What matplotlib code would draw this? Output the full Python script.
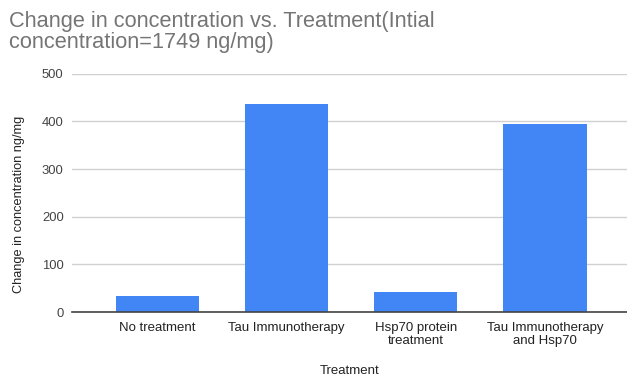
import matplotlib.pyplot as plt
import numpy as np

plt.rcParams['font.family'] = ['Liberation Sans', 'DejaVu Sans']

# data
treatments = ["No treatment", "Tau Immunotherapy", "Hsp70 protein\ntreatment",
              "Tau Immunotherapy\nand Hsp70"]
change = [34, 437, 41, 395]
y_ticks = [0, 100, 200, 300, 400, 500]
title_lines = ["Change in concentration vs. Treatment(Intial",
               "concentration=1749 ng/mg)"]

fig = plt.figure(figsize=(6.27, 3.77), dpi=100)
ax = fig.add_axes([0.1148, 0.1724, 0.8852, 0.6321])

x = np.arange(len(treatments))
ax.bar(x, change, width=0.645, color="#4285F4", zorder=3)

ax.set_xlim(-0.663, 3.636)
ax.set_ylim(0, 500)
ax.set_yticks(y_ticks)
ax.set_xticks(x)
ax.set_xticklabels(treatments, fontsize=9.5, color="#222222", linespacing=1.1)
ax.tick_params(axis='y', labelsize=9.4, labelcolor="#444444", length=0, pad=6)
ax.tick_params(axis='x', length=0, pad=7)

ax.grid(axis='y', color="#d0d0d0", linewidth=1, zorder=0)
for s in ["top", "right", "left"]:
    ax.spines[s].set_visible(False)
ax.spines["bottom"].set_color("#444444")
ax.spines["bottom"].set_linewidth(1.2)
ax.spines["bottom"].set_zorder(4)

ax.set_ylabel("Change in concentration ng/mg", fontsize=9.2, color="#222222")
ax.yaxis.set_label_coords(-0.085, 0.45)
ax.set_xlabel("Treatment", fontsize=9.5, color="#222222")
ax.xaxis.set_label_coords(0.5, -0.222)

# title, two lines placed by baseline
fig.text(0.014, 1 - 27 / 377, title_lines[0], fontsize=15.7, color="#757575",
         va="baseline", ha="left")
fig.text(0.014, 1 - 48 / 377, title_lines[1], fontsize=15.7, color="#757575",
         va="baseline", ha="left")

fig.savefig("out.png", dpi=100)
